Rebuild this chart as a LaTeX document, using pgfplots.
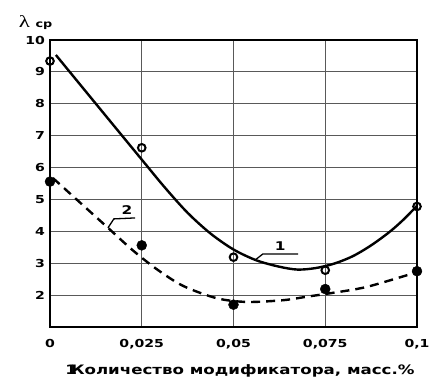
\documentclass[border=0pt]{standalone}
\usepackage{fontspec}
\setmainfont{DejaVu Sans}
\newfontfamily\wbf[FakeStretch=1.28]{DejaVu Sans}
\newfontfamily\wserif[FakeStretch=1.35]{Liberation Serif}
\usepackage{pgfplots}
\pgfplotsset{compat=1.18}
\begin{document}
\begin{tikzpicture}
\begin{axis}[
  scale only axis, width=367pt, height=287pt,
  xmin=0, xmax=0.1, ymin=1, ymax=10,
  xtick={0,0.025,0.05,0.075,0.1},
  xticklabels={{\raisebox{3.5pt}{0}},{0,025},{0,05},{0,075},{0,1}},
  ytick={2,3,4,5,6,7,8,9,10},
  grid=major, grid style={black!65, line width=0.9pt},
  axis line style={black, line width=1.2pt},
  major tick length=0pt,
  /pgf/number format/assume math mode=true,
  ticklabel style={font=\wbf\bfseries\fontsize{11}{11}\selectfont},
  xticklabel style={yshift=-8.5pt},
  yticklabel style={xshift=-1.5pt},
  clip=false,
]
% curve 1 (solid)
\addplot[black, line width=2.4pt, smooth, tension=0.5] coordinates {
  (0.0016,9.53) (0.0125,8.00) (0.025,6.25) (0.03125,5.38) (0.0375,4.58)
  (0.04375,3.93) (0.05,3.43) (0.05625,3.09) (0.0625,2.89) (0.0675,2.80)
  (0.0725,2.85) (0.0775,2.99) (0.0825,3.22) (0.0875,3.56) (0.0925,3.98)
  (0.09625,4.36) (0.1,4.80)
};
% curve 2 (dashed)
\addplot[black, line width=2.4pt, dash pattern=on 9pt off 6pt, smooth, tension=0.5] coordinates {
  (0.0008,5.67) (0.0082,4.90) (0.0158,4.11) (0.0225,3.41) (0.029,2.82)
  (0.03625,2.29) (0.0455,1.90) (0.05375,1.785) (0.0635,1.84) (0.070,1.95)
  (0.077,2.07) (0.0864,2.26) (0.1,2.72)
};
% experimental points, series 1 (open)
\addplot[only marks, mark=o, mark size=3.8pt, line width=2pt, mark options={fill=white, draw=black}] coordinates {
  (0,9.34) (0.025,6.62) (0.05,3.19) (0.075,2.78) (0.1,4.78)
};
% experimental points, series 2 (filled)
\addplot[only marks, mark=*, mark size=5pt, black] coordinates {
  (0,5.56) (0.025,3.56) (0.05,1.70) (0.075,2.19) (0.1,2.75)
};
% curve labels with leaders
\draw[black, line width=1.3pt] (axis cs:0.0559,3.10) -- (axis cs:0.0580,3.29) -- (axis cs:0.0676,3.29);
\node[font=\wbf\bfseries\fontsize{12}{12}\selectfont] at (axis cs:0.0627,3.55) {1};
\draw[black, line width=1.3pt] (axis cs:0.0158,4.11) -- (axis cs:0.0174,4.39) -- (axis cs:0.0232,4.42);
\node[font=\wbf\bfseries\fontsize{12}{12}\selectfont] at (axis cs:0.0210,4.68) {2};
\coordinate (bl) at (rel axis cs:0,0);
\coordinate (tr) at (rel axis cs:1,1);
\coordinate (tl) at (rel axis cs:0,1);
\coordinate (bm) at (rel axis cs:0.5,0);
\end{axis}
\node[anchor=base, inner sep=0pt, font=\wserif\fontsize{17}{17}\selectfont] at ([shift={(-25.5pt,12pt)}]tl) {λ};
\node[anchor=base, inner sep=0pt, font=\wbf\bfseries\fontsize{10}{10}\selectfont] at ([shift={(-6pt,12pt)}]tl) {ср};
\node[anchor=base, inner sep=0pt, font=\wbf\bfseries\fontsize{13}{13}\selectfont] at ([shift={(6.5pt,-47.5pt)}]bm) {1\kern-6pt Количество модификатора, масс.\%};
\pgfresetboundingbox
\path ([shift={(-50pt,-51pt)}]bl) rectangle ([shift={(14pt,40pt)}]tr);
\end{tikzpicture}
\end{document}
